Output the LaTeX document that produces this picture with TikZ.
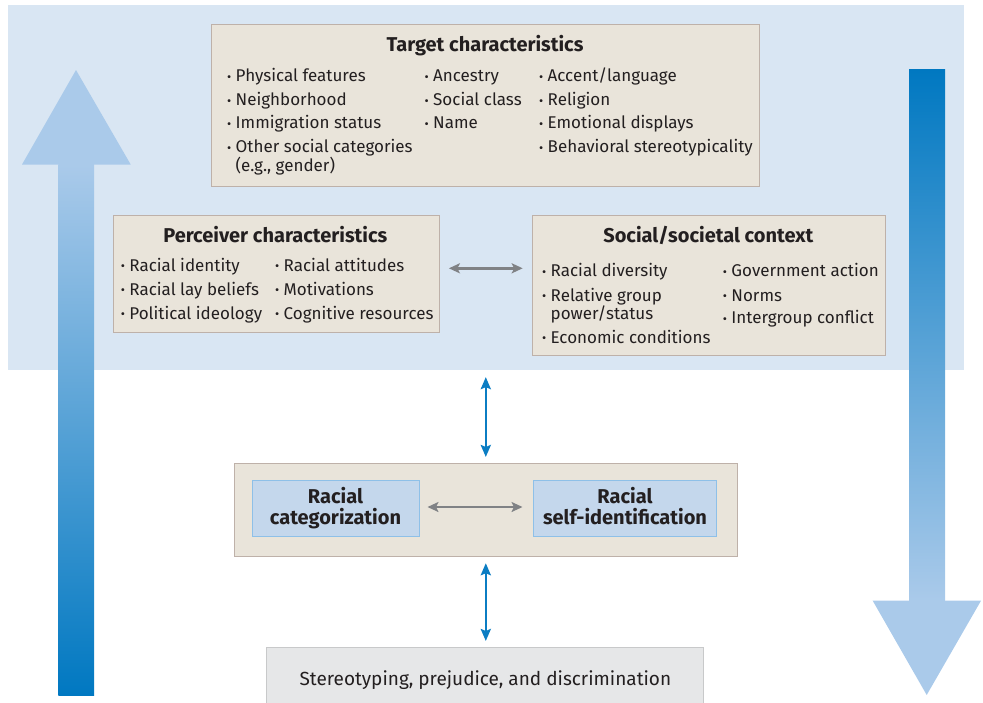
\documentclass[tikz,border=0pt]{standalone}
\usepackage{fontspec}
\usepackage{graphicx}
\setmainfont{Fira Sans}
\usetikzlibrary{arrows.meta}
\definecolor{bgblue}{HTML}{D9E6F3}
\definecolor{beige}{HTML}{E9E4DA}
\definecolor{beigeline}{HTML}{BEB1A9}
\definecolor{innerfill}{HTML}{C4D7EC}
\definecolor{innerline}{HTML}{8EC0E8}
\definecolor{botfill}{HTML}{E6E7E8}
\definecolor{botline}{HTML}{C8C9CA}
\definecolor{garrow}{HTML}{808285}
\definecolor{barrow}{HTML}{0B7DC3}
\definecolor{darkb}{HTML}{0078C1}
\definecolor{lightb}{HTML}{AACAEA}
\definecolor{ink}{HTML}{231F20}
\newcommand\bul{\makebox[8.5pt][l]{\raisebox{0.5pt}{\scalebox{0.75}{\textbullet}}}}
\tikzset{
 box/.style={draw=beigeline, fill=beige, line width=1.2pt, inner sep=0pt, anchor=north west},
 innerbox/.style={draw=innerline, fill=innerfill, line width=1pt, inner sep=0pt, align=center,
   font=\fontsize{20}{21}\selectfont\bfseries, text=ink},
 titletext/.style={font=\fontsize{20}{22}\selectfont\bfseries, text=ink, anchor=base, inner sep=0pt},
 item/.style={font=\fontsize{17}{19}\selectfont, text=ink, anchor=base west, inner sep=0pt},
 bluearrow/.style={draw=barrow, line width=2.6pt, {Stealth[length=12pt,width=10pt,inset=2pt]}-{Stealth[length=12pt,width=10pt,inset=2pt]}},
 grayarrow/.style={draw=garrow, line width=2.6pt, {Stealth[length=11pt,width=10pt,inset=2.5pt]}-{Stealth[length=11pt,width=10pt,inset=2.5pt]}}
}
\begin{document}
\begin{tikzpicture}[x=1pt,y=-1pt]
\useasboundingbox (0,0) rectangle (983,702);
% background band
\node[fill=bgblue, draw=none, minimum width=956.2pt, minimum height=364.7pt, anchor=north west, inner sep=0pt] (bg) at (7.5,5) {};
% big side arrows
\shade[top color=lightb, bottom color=darkb] (58.3,164.5) rectangle (94,695.3);
\fill[lightb] (22,164.5) -- (76,70) -- (130.7,164.5) -- cycle;
\shade[top color=darkb, bottom color=lightb] (909,69) rectangle (945,601);
\fill[lightb] (872.7,600.7) -- (981,600.7) -- (926.7,695) -- cycle;

% target box
\node[box, minimum width=548.5pt, minimum height=162pt] (target) at (210.7,24) {};
\node[titletext] (ttitle) at (485,51) {Target characteristics};
\node[item] (ta1) at (227,81.5) {\bul Physical features};
\node[item] (ta2) at (227,105.5) {\bul Neighborhood};
\node[item] (ta3) at (227,128.5) {\bul Immigration status};
\node[item] (ta4) at (227,152.5) {\bul Other social categories};
\node[item] (ta5) at (235.5,171.5) {(e.g., gender)};
\node[item] (tb1) at (424.5,81.5) {\bul Ancestry};
\node[item] (tb2) at (424.5,105.5) {\bul Social class};
\node[item] (tb3) at (424.5,128.5) {\bul Name};
\node[item] (tc1) at (539,81.5) {\bul Accent/language};
\node[item] (tc2) at (539,105.5) {\bul Religion};
\node[item] (tc3) at (539,128.5) {\bul Emotional displays};
\node[item] (tc4) at (539,152.5) {\bul Behavioral stereotypicality};

% perceiver box
\node[box, minimum width=326pt, minimum height=116.7pt] (perc) at (112.7,215) {};
\node[titletext] (ptitle) at (275.3,242.5) {Perceiver characteristics};
\node[item] (pa1) at (120.7,271) {\bul Racial identity};
\node[item] (pa2) at (120.7,295) {\bul Racial lay beliefs};
\node[item] (pa3) at (120.7,319) {\bul Political ideology};
\node[item] (pb1) at (275,271) {\bul Racial attitudes};
\node[item] (pb2) at (275,295) {\bul Motivations};
\node[item] (pb3) at (275,319) {\bul Cognitive resources};

% context box
\node[box, minimum width=353pt, minimum height=140pt] (ctx) at (532,215) {};
\node[titletext] (ctitle) at (708.3,242.5) {Social/societal context};
\node[item] (ca1) at (542,276.5) {\bul Racial diversity};
\node[item] (ca2) at (542,301) {\bul Relative group};
\node[item] (ca3) at (550.5,319.5) {power/status};
\node[item] (ca4) at (542,343) {\bul Economic conditions};
\node[item] (cb1) at (722.7,276.5) {\bul Government action};
\node[item] (cb2) at (722.7,301) {\bul Norms};
\node[item] (cb3) at (722.7,323.5) {\bul Intergroup conflict};

\coordinate (gy) at (0,268.3);
\draw[grayarrow, shorten <=9pt, shorten >=9.3pt] (perc.east |- gy) -- (ctx.west |- gy);

% middle box
\node[box, minimum width=502.8pt, minimum height=93.3pt] (mid) at (233.8,462.7) {};
\node[innerbox, minimum width=167pt, minimum height=56pt] (cat) at (335.5,508.5) {Racial\\categorization};
\node[innerbox, minimum width=183.2pt, minimum height=56pt] (self) at (625,508.5) {Racial\\self-identification\vphantom{g}};
\coordinate (my) at (0,507);
\draw[grayarrow, shorten <=8pt, shorten >=10.4pt] (cat.east |- my) -- (self.west |- my);

% bottom box
\node[draw=botline, fill=botfill, line width=1pt, minimum width=437pt, minimum height=60pt, anchor=north west, inner sep=0pt,
  font=\fontsize{19}{22}\selectfont, text=ink, text depth=0pt] (out) at (266.4,647) {\raisebox{-1pt}{Stereotyping, prejudice, and discrimination}};

% blue connectors
\draw[bluearrow, shorten <=7pt, shorten >=5.7pt] (mid.north |- bg.south) -- (mid.north);
\draw[bluearrow, shorten <=6pt, shorten >=6pt] (mid.south) -- (out.north -| mid.south);
\end{tikzpicture}
\end{document}
